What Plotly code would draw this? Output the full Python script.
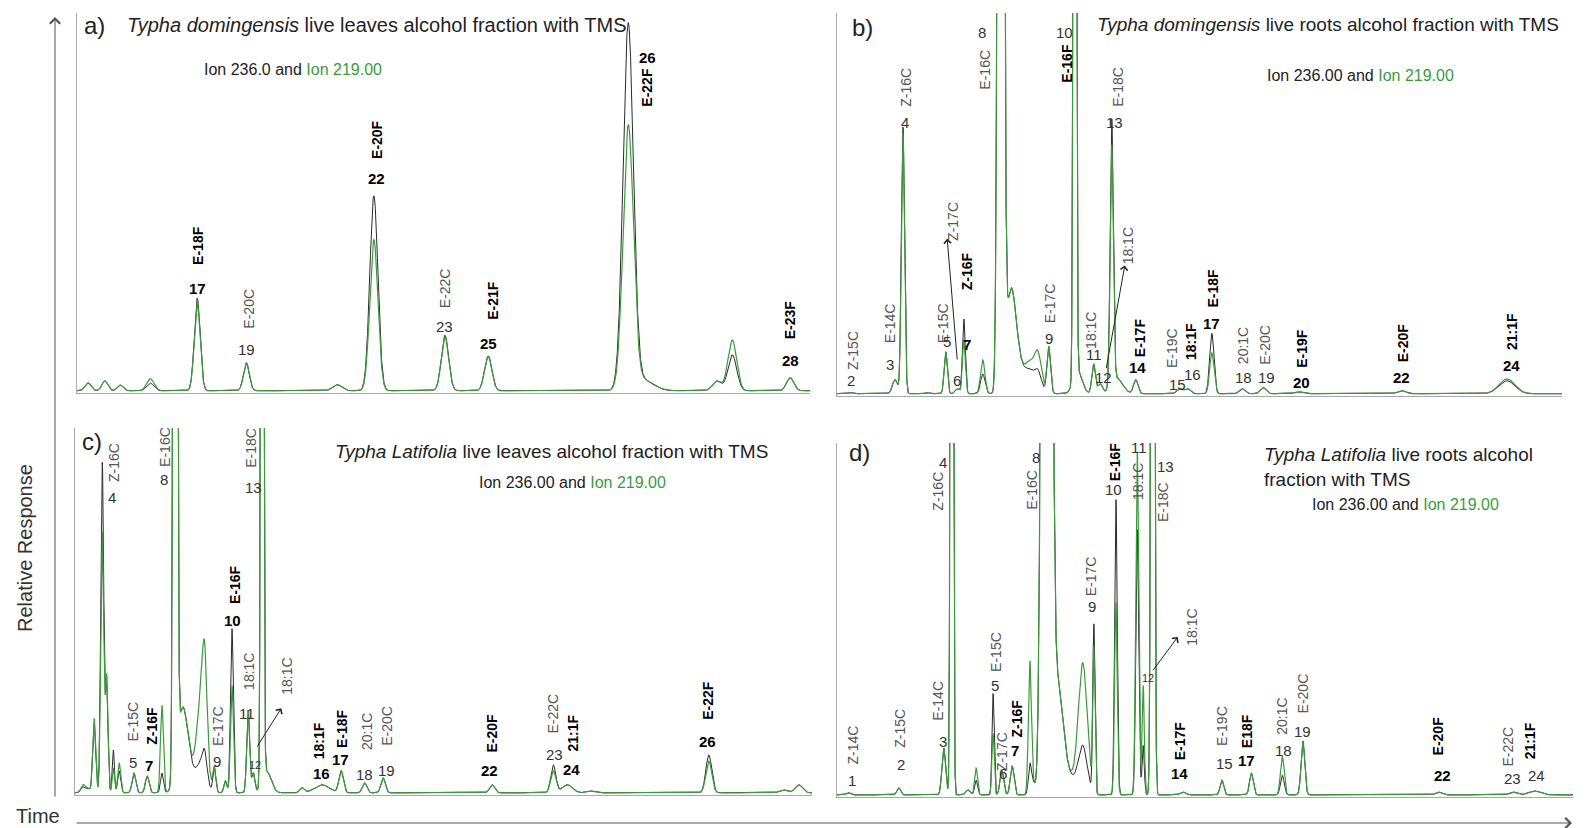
import numpy as np
import plotly.graph_objects as go

W, H = 1591, 828
FONT = "Liberation Sans, Arial, sans-serif"
GREEN = "#3c9a3c"

# ---------------- peak tables (retention time as % of window, relative response %, peak sigma) -------------
# panel a: Typha domingensis live leaves
a_rt = [1.5, 3.8, 5.9, 10.0, 16.4, 23.1, 35.5, 40.5, 50.2, 56.1, 75.2, 77.0, 87.3, 89.4, 97.3]
a_ion236 = [2.1, 2.6, 1.5, 2.0, 24.5, 7.4, 1.6, 51.6, 14.7, 9.2, 96.0, 3.0, 2.6, 9.5, 3.4]
a_ion219 = [2.1, 2.6, 1.5, 3.2, 23.0, 7.4, 1.6, 40.0, 14.2, 9.0, 69.0, 3.0, 2.6, 13.4, 3.4]
a_sigma = [0.4, 0.4, 0.4, 0.5, 0.4, 0.4, 0.6, 0.55, 0.5, 0.5, 0.7, 1.5, 0.6, 0.6, 0.5]

# panel b: Typha domingensis live roots
b_rt = [1.8, 8.0, 9.1, 12.4, 15.0, 16.6, 17.5, 20.1, 22.6, 24.0, 25.5, 26.6, 27.7, 29.2,
        32.8, 33.2, 35.4, 36.3, 37.9, 38.6, 41.2, 47.3, 48.4, 51.7, 55.9, 58.8, 63.6, 77.9, 92.4]
b_ion236 = [0.3, 3.7, 70.0, 0.3, 11.0, 1.3, 19.6, 5.2, 600, 25, 6, 2, 5.2, 12.3,
            500, 6, 7.8, 2.6, 69.5, 4, 3.7, 1.3, 1.3, 15.9, 1.3, 1.6, 0.5, 0.8, 3.4]
b_ion219 = [0.3, 3.7, 68.4, 0.3, 11.0, 1.3, 14.1, 8.9, 600, 25, 6, 4, 9.9, 12.3,
            500, 6, 7.8, 2.6, 62.7, 4, 3.7, 1.3, 1.3, 10.7, 1.3, 1.6, 0.5, 0.8, 3.9]
b_sigma = [0.3, 0.35, 0.22, 0.3, 0.22, 0.3, 0.2, 0.3, 0.3, 0.7, 1.2, 0.5, 0.5, 0.25,
           0.16, 0.6, 0.25, 0.3, 0.22, 0.8, 0.3, 0.4, 0.4, 0.3, 0.4, 0.4, 0.5, 0.6, 1.1]

# panel c: Typha latifolia live leaves
c_rt = [1.1, 1.8, 2.6, 3.7, 4.3, 5.2, 6.0, 8.0, 9.8, 11.8, 13.6, 14.6, 16.0, 17.2, 17.6, 18.9, 20.4,
        21.3, 23.5, 24.2, 25.4, 26.0, 30.8, 33.5, 36.1, 39.3, 41.8, 56.6, 64.9, 66.8, 69.9, 86.0, 96.1, 98.2]
c_ion236 = [1.5, 1.1, 19.0, 90.5, 28.6, 11.7, 6.0, 5.4, 4.6, 5.4, 600, 22, 4, 6, 6, 6.8, 3.3,
            45.0, 22.6, 5.4, 500, 6, 1.4, 2.2, 6.0, 2.7, 4.1, 2.2, 7.6, 2.2, 0.5, 10.4, 0.8, 2.2]
c_ion219 = [2.2, 1.1, 20.4, 71.4, 31.9, 6.8, 8.2, 5.4, 4.6, 24.0, 600, 22, 4, 25, 20, 6.8, 3.3,
            29.4, 22.6, 5.4, 500, 6, 1.4, 2.2, 6.0, 2.7, 4.1, 2.2, 6.0, 2.2, 0.5, 8.7, 0.8, 2.2]
c_sigma = [0.3, 0.3, 0.2, 0.2, 0.18, 0.15, 0.2, 0.25, 0.25, 0.2, 0.2, 0.7, 1.0, 0.6, 0.3, 0.2, 0.2,
           0.2, 0.2, 0.2, 0.15, 0.6, 0.3, 1.0, 0.3, 0.3, 0.3, 0.35, 0.35, 0.7, 0.5, 0.4, 0.5, 0.5]

# panel d: Typha latifolia live roots
d_rt = [1.5, 8.4, 14.5, 15.6, 17.8, 18.9, 21.2, 22.4, 23.8, 26.2, 26.6, 28.5, 30.0, 31.5,
        33.4, 34.9, 37.9, 40.8, 41.6, 42.9, 47.0, 52.3, 56.3, 60.5, 63.3, 81.7, 91.8, 94.8]
d_ion236 = [0.6, 2.0, 13.3, 500, 1.4, 4.2, 28.8, 6.8, 8.2, 7.6, 3.4, 800, 30, 5,
            13.3, 48.0, 83.9, 75.4, 14.0, 500, 0.8, 4.2, 6.2, 5.6, 15.3, 0.8, 0.8, 1.1]
d_ion219 = [0.6, 2.0, 13.3, 500, 1.4, 7.6, 17.5, 6.8, 8.2, 36.7, 3.4, 800, 30, 5,
            36.7, 40.7, 54.8, 97.2, 31.1, 500, 0.8, 4.2, 6.2, 11.0, 15.3, 0.8, 0.8, 1.1]
d_sigma = [0.3, 0.25, 0.25, 0.15, 0.3, 0.2, 0.15, 0.25, 0.25, 0.2, 0.3, 0.45, 0.7, 1.0,
           0.6, 0.15, 0.18, 0.2, 0.15, 0.18, 0.4, 0.25, 0.25, 0.25, 0.25, 0.4, 0.5, 0.8]

# ---------------- peak labels: (text, kind, time, response) -----------------
a_labels = [("E-18F", "F", 16.4, 38.4), ("17", "N", 16.4, 27.1), ("E-20C", "c", 23.5, 21.8), ("19", "n", 23.1, 10.8),
            ("E-20F", "F", 40.9, 66.6), ("22", "N", 40.9, 56.1), ("E-22C", "c", 50.2, 27.1), ("23", "n", 50.2, 17.1),
            ("E-21F", "F", 56.8, 23.9), ("25", "N", 56.1, 12.6), ("26", "N", 77.8, 88.2), ("E-22F", "F", 77.8, 80.3),
            ("E-23F", "F", 97.3, 18.7), ("28", "N", 97.3, 7.9)]
b_labels = [("Z-15C", "c", 2.2, 11.5), ("2", "n", 1.9, 3.4), ("E-14C", "c", 7.3, 18.5), ("3", "n", 7.3, 7.6),
            ("Z-16C", "c", 9.4, 80.4), ("4", "n", 9.4, 71.3), ("E-15C", "c", 14.6, 18.5), ("5", "n", 15.2, 13.8),
            ("6", "n", 16.6, 3.4), ("Z-17C", "c", 15.9, 45.2), ("7", "N", 17.9, 12.8), ("Z-16F", "F", 17.9, 32.1),
            ("E-16C", "c", 20.4, 85.1), ("8", "n", 20.0, 94.8), ("10", "n", 31.4, 94.8), ("E-16F", "F", 31.7, 86.9),
            ("E-18C", "c", 38.8, 80.7), ("13", "n", 38.3, 71.3), ("E-17C", "c", 29.4, 23.8), ("9", "n", 29.2, 14.6),
            ("18:1C", "c", 35.0, 16.7), ("11", "n", 35.4, 10.2), ("12", "n", 36.8, 4.2), ("18:1C", "c", 40.1, 38.9),
            ("E-17F", "F", 41.8, 14.6), ("14", "N", 41.4, 6.8), ("E-19C", "c", 46.2, 12.0), ("15", "n", 46.9, 2.3),
            ("16", "n", 49.1, 5.0), ("18:1F", "F", 48.8, 13.8), ("E-18F", "F", 51.9, 27.7), ("17", "N", 51.7, 18.5),
            ("20:1C", "c", 56.0, 12.5), ("18", "n", 56.0, 4.2), ("E-20C", "c", 59.0, 12.8), ("19", "n", 59.3, 4.2),
            ("E-19F", "F", 64.1, 12.0), ("20", "N", 64.0, 2.9), ("E-20F", "F", 78.1, 13.3), ("22", "N", 77.9, 4.2),
            ("21:1F", "F", 93.2, 16.4), ("24", "N", 93.1, 7.3)]
c_labels = [("Z-16C", "c", 5.2, 90.5), ("4", "n", 5.0, 80.9), ("E-16C", "c", 12.2, 94.8), ("8", "n", 12.1, 85.8),
            ("E-18C", "c", 23.9, 94.6), ("13", "n", 24.2, 83.7), ("E-16F", "F", 21.7, 57.2), ("10", "N", 21.4, 47.1),
            ("18:1C", "c", 23.5, 33.2), ("11", "n", 23.3, 21.8), ("12", "s", 24.4, 7.6), ("18:1C", "c", 28.8, 31.9),
            ("E-15C", "c", 7.9, 19.6), ("5", "n", 7.9, 8.2), ("Z-16F", "F", 10.4, 18.3), ("7", "N", 10.0, 7.6),
            ("E-17C", "c", 19.4, 18.3), ("9", "n", 19.3, 8.7), ("18:1F", "F", 33.1, 14.4), ("16", "N", 33.5, 5.4),
            ("E-18F", "F", 36.2, 17.7), ("17", "N", 36.0, 9.0), ("20:1C", "c", 39.6, 16.9), ("18", "n", 39.3, 4.9),
            ("E-20C", "c", 42.3, 18.3), ("19", "n", 42.3, 6.0), ("E-20F", "F", 56.6, 16.3), ("22", "N", 56.3, 6.0),
            ("E-22C", "c", 64.9, 21.8), ("23", "n", 65.0, 10.4), ("21:1F", "F", 67.6, 16.3), ("24", "N", 67.4, 6.3),
            ("E-22F", "F", 85.8, 25.3), ("26", "N", 85.8, 14.2)]
d_labels = [("Z-14C", "c", 2.2, 14.1), ("1", "n", 2.0, 4.0), ("Z-15C", "c", 8.6, 18.9), ("2", "n", 8.7, 8.5),
            ("E-14C", "c", 13.6, 26.8), ("3", "n", 14.4, 15.3), ("Z-16C", "c", 13.6, 86.2), ("4", "n", 14.4, 94.6),
            ("E-15C", "c", 21.5, 40.7), ("5", "n", 21.5, 31.1), ("Z-17C", "c", 22.4, 12.4), ("6", "n", 22.6, 6.2),
            ("Z-16F", "F", 24.5, 21.8), ("7", "N", 24.2, 12.7), ("E-16C", "c", 26.5, 86.7), ("8", "n", 27.0, 96.0),
            ("E-17C", "c", 34.5, 62.1), ("9", "n", 34.6, 53.4), ("E-16F", "F", 37.8, 94.6), ("10", "n", 37.6, 86.7),
            ("11", "n", 41.0, 98.6), ("18:1C", "c", 40.8, 89.0), ("13", "n", 44.6, 93.2), ("E-18C", "c", 44.2, 83.3),
            ("12", "s", 42.3, 33.1), ("18:1C", "c", 48.2, 47.7), ("E-17F", "F", 46.6, 15.5), ("14", "N", 46.5, 6.2),
            ("E-19C", "c", 52.4, 19.5), ("15", "n", 52.7, 9.0), ("E18F", "F", 55.7, 18.1), ("17", "N", 55.7, 9.9),
            ("20:1C", "c", 60.5, 22.3), ("18", "n", 60.6, 12.7), ("E-20C", "c", 63.3, 28.8), ("19", "n", 63.3, 18.1),
            ("E-20F", "F", 81.7, 16.7), ("22", "N", 82.3, 5.4), ("E-22C", "c", 91.2, 13.8), ("23", "n", 91.8, 4.8),
            ("21:1F", "F", 94.2, 15.3), ("24", "n", 95.1, 5.6)]

# pointer arrows inside panels: (tail_t, tail_r, head_t, head_r)
b_arrows = [(16.6, 8.6, 15.2, 40.7), (37.1, 6.3, 39.7, 33.7)]
c_arrows = [(24.6, 12.3, 28.0, 23.2)]
d_arrows = [(42.8, 35.0, 46.3, 44.9)]

ION = "Ion 236.00 and <span style='color:%s'>Ion 219.00</span>" % GREEN
panels = [
    dict(rt=a_rt, i236=a_ion236, i219=a_ion219, sig=a_sigma, labels=a_labels, arrows=[],
         px=(77, 810), py=(13, 393),
         titles=[("a)", 0.7, 96.8, 24), ("<i>Typha domingensis</i> live leaves alcohol fraction with TMS", 6.5, 96.8, 20),
                 ("Ion 236.0 and <span style='color:%s'>Ion 219.00</span>" % GREEN, 17.1, 85.0, 16)]),
    dict(rt=b_rt, i236=b_ion236, i219=b_ion219, sig=b_sigma, labels=b_labels, arrows=b_arrows,
         px=(837, 1562), py=(13, 396),
         titles=[("b)", 1.8, 96.1, 24), ("<i>Typha domingensis</i> live roots alcohol fraction with TMS", 35.6, 96.9, 19),
                 (ION, 59.0, 83.6, 16)]),
    dict(rt=c_rt, i236=c_ion236, i219=c_ion219, sig=c_sigma, labels=c_labels, arrows=c_arrows,
         px=(75, 812), py=(428, 795),
         titles=[("c)", 0.7, 96.2, 24), ("<i>Typha Latifolia</i> live leaves alcohol fraction with TMS", 35.0, 93.5, 19),
                 (ION, 54.5, 85.0, 16)]),
    dict(rt=d_rt, i236=d_ion236, i219=d_ion219, sig=d_sigma, labels=d_labels, arrows=d_arrows,
         px=(837, 1573), py=(443, 797),
         titles=[("d)", 1.4, 97.2, 24), ("<i>Typha Latifolia</i> live roots alcohol<br>fraction with TMS", 57.7, 93.1, 19),
                 (ION, 64.3, 82.5, 16)]),
]

STYLE = {"n": (15, "#333", False, 0), "N": (15, "#000", True, 0), "c": (14, "#555", False, -90),
         "F": (14, "#000", True, -90), "s": (11, "#333", False, 0)}

t = np.linspace(0, 100, 6001)


def chromatogram(rt, h, s):
    y = np.zeros_like(t)
    for r, a, w in zip(rt, h, s):
        y += a * np.exp(-0.5 * ((t - r) / w) ** 2)
    return y


fig = go.Figure()
annotations = []
layout_axes = {}
for i, p in enumerate(panels, start=1):
    sx = "" if i == 1 else str(i)
    xr, yr = "x" + sx, "y" + sx
    fig.add_trace(go.Scatter(x=t, y=chromatogram(p["rt"], p["i236"], p["sig"]), mode="lines",
                             line=dict(color="#2a2a2a", width=1), xaxis=xr, yaxis=yr, hoverinfo="skip"))
    fig.add_trace(go.Scatter(x=t, y=chromatogram(p["rt"], p["i219"], p["sig"]), mode="lines",
                             line=dict(color=GREEN, width=1.2), xaxis=xr, yaxis=yr, hoverinfo="skip"))
    layout_axes["xaxis" + sx] = dict(domain=[p["px"][0] / W, p["px"][1] / W], range=[0, 100], anchor=yr,
                                     showline=True, linecolor="#a8a8a8", linewidth=1, showgrid=False,
                                     zeroline=False, showticklabels=False, ticks="")
    layout_axes["yaxis" + sx] = dict(domain=[1 - p["py"][1] / H, 1 - p["py"][0] / H], range=[-0.6, 100], anchor=xr,
                                     showline=True, linecolor="#a8a8a8", linewidth=1, showgrid=False,
                                     zeroline=False, showticklabels=False, ticks="")
    for text, kind, xt, yv in p["labels"]:
        size, color, bold, ang = STYLE[kind]
        annotations.append(dict(x=xt, y=yv, xref=xr, yref=yr, text="<b>%s</b>" % text if bold else text,
                                showarrow=False, textangle=ang, xanchor="center", yanchor="middle",
                                font=dict(size=size, color=color, family=FONT)))
    for tx, ty, hx, hy in p["arrows"]:
        annotations.append(dict(x=hx, y=hy, ax=tx, ay=ty, xref=xr, yref=yr, axref=xr, ayref=yr, text="",
                                showarrow=True, arrowhead=4, arrowsize=1.4, arrowwidth=1, arrowcolor="#222"))
    for text, xt, yv, size in p["titles"]:
        annotations.append(dict(x=xt, y=yv, xref=xr, yref=yr, text=text, showarrow=False, align="left",
                                xanchor="left", yanchor="middle", font=dict(size=size, color="#222", family=FONT)))

# global axis arrows and titles
annotations.append(dict(x=55 / W, y=1 - 17 / H, xref="paper", yref="paper", ax=0, ay=781, text="",
                        showarrow=True, arrowhead=4, arrowsize=2, arrowwidth=1, arrowcolor="#555"))
annotations.append(dict(x=1572 / W, y=1 - 823 / H, xref="paper", yref="paper", ax=-1497, ay=0, text="",
                        showarrow=True, arrowhead=4, arrowsize=2, arrowwidth=1, arrowcolor="#555"))
annotations.append(dict(x=25 / W, y=1 - 548 / H, xref="paper", yref="paper", text="Relative Response",
                        showarrow=False, textangle=-90, xanchor="center", yanchor="middle",
                        font=dict(size=20, color="#333", family=FONT)))
annotations.append(dict(x=38 / W, y=1 - 816 / H, xref="paper", yref="paper", text="Time",
                        showarrow=False, xanchor="center", yanchor="middle",
                        font=dict(size=20, color="#333", family=FONT)))

fig.update_layout(width=W, height=H, margin=dict(l=0, r=0, t=0, b=0), paper_bgcolor="white",
                  plot_bgcolor="white", showlegend=False, annotations=annotations,
                  font=dict(family=FONT), **layout_axes)

fig.write_html("out.html", config={"displayModeBar": False},
               post_script="document.body.style.margin='0';")
